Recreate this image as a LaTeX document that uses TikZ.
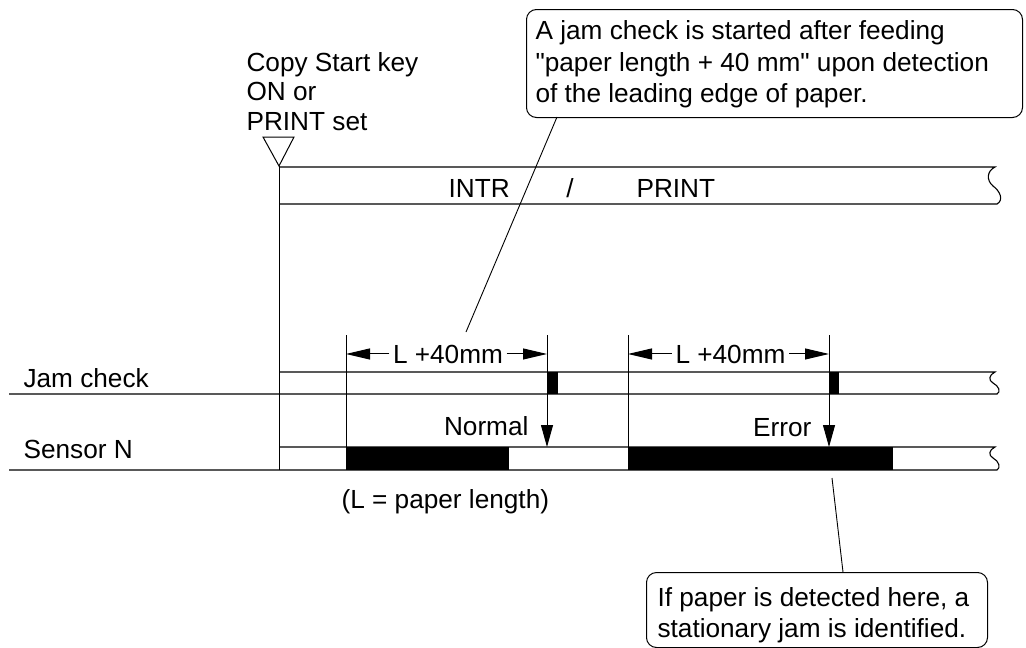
\documentclass[tikz,border=0pt]{standalone}
\usepackage{fontspec}
\setmainfont{Liberation Sans}
\newfontfamily\qfont{Liberation Sans}
\usetikzlibrary{arrows.meta}
\begin{document}
\begin{tikzpicture}[x=1pt,y=-1pt, line width=1.1pt,
  lbl/.style={inner sep=0pt, font=\fontsize{26.2}{31}\selectfont},
  callout/.style={draw, rounded corners=10pt, inner sep=0pt, line width=1pt},
  leader/.style={line width=0.9pt},
  downarr/.style={-{Triangle[length=22pt,width=12pt]}},
  dimarr/.style={-{Triangle[length=24pt,width=11pt]}, line width=1pt},
  dimline/.style={line width=1pt}
]
\useasboundingbox (0,0) rectangle (1026,648);

% start marker
\coordinate (start) at (279,166);
\draw[line width=1pt] (263,137) -- (294,137) -- (start) -- cycle;
\node[lbl, anchor=base west] (cs1) at (246,71) {Copy Start key};
\node[lbl, anchor=base west] (cs2) at (246,100) {ON or};
\node[lbl, anchor=base west] (cs3) at (246,130) {PRINT set};

% main vertical
\coordinate (vend) at (279,470);
\draw[line width=1pt] (start) -- (vend);

% INTR / PRINT band
\draw (279,167) -- (995,167) .. controls (987,171) and (986,180) .. (993,186)
      .. controls (1000,191) and (1004,200) .. (997,204) -- (279,204);
\node[lbl, anchor=base west] (intr) at (448,197) {INTR};
\node[lbl, anchor=base] (slash) at (570,197) {/};
\node[lbl, anchor=base west] (print) at (636,197) {PRINT};

% Jam check band
\draw (279,372) -- (995,372) .. controls (989,375) and (988,380) .. (993,383)
      .. controls (999,386) and (1001,392) .. (997,394) -- (9,394);
\node[lbl, anchor=base west] (jamlbl) at (23,387) {Jam check};
\fill (547,372) rectangle (558,394);
\fill (829,372) rectangle (839,394);

% Sensor N band
\draw (279,447) -- (995,447) .. controls (989,450) and (988,455) .. (993,458)
      .. controls (999,461) and (1001,468) .. (997,470) -- (9,470);
\node[lbl, anchor=base west] (senlbl) at (23,458) {Sensor N};
\fill (346,447) rectangle (509,470);
\fill (628,447) rectangle (893,470);

% dimension verticals
\coordinate (a1) at (346,335); \coordinate (a1b) at (346,447);
\coordinate (b1) at (547,335); \coordinate (b1b) at (547,447);
\coordinate (a2) at (628,335); \coordinate (a2b) at (628,447);
\coordinate (b2) at (829,335); \coordinate (b2b) at (829,447);
\draw[dimline] (a1) -- (a1b);
\draw[dimline] (a2) -- (a2b);
\draw[dimline, downarr] (b1) -- (b1b);
\draw[dimline, downarr] (b2) -- (b2b);

% dimension labels
\node[lbl, inner xsep=3pt, inner ysep=2pt, anchor=base] (d1) at (448,363) {L +40mm};
\node[lbl, inner xsep=3pt, inner ysep=2pt, anchor=base] (d2) at (730.5,363) {L +40mm};
\draw[dimarr] (d1.west) -- (d1.west -| a1);
\draw[dimarr] (d1.east) -- (d1.east -| b1);
\draw[dimarr] (d2.west) -- (d2.west -| a2);
\draw[dimarr] (d2.east) -- (d2.east -| b2);

\node[lbl, anchor=base east] (normal) at (529,435) {Normal};
\node[lbl, anchor=base east] (error) at (812,436) {Error};
\node[lbl, anchor=base west] (paperlen) at (341,508) {(L = paper length)};

% callout 1
\node[callout, minimum width=496pt, minimum height=108pt, anchor=north west] (c1) at (526,9) {};
\node[lbl, anchor=base west] (c1a) at (535,39) {A jam check is started after feeding};
\node[lbl, anchor=base west] (c1b) at (535,71) {{\qfont"}paper length + 40 mm{\qfont"} upon detection};
\node[lbl, anchor=base west] (c1c) at (535,102) {of the leading edge of paper.};
\coordinate (l1a) at (557,117);
\coordinate (l1b) at (466,332);
\draw[leader] (l1a) -- (l1b);

% callout 2
\node[callout, minimum width=341pt, minimum height=75pt, anchor=north west] (c2) at (646,572) {};
\node[lbl, anchor=base west] (c2a) at (657,606) {If paper is detected here, a};
\node[lbl, anchor=base west] (c2b) at (657,637) {stationary jam is identified.};
\coordinate (l2a) at (843,572);
\coordinate (l2b) at (832,478);
\draw[leader] (l2a) -- (l2b);
\end{tikzpicture}
\end{document}
